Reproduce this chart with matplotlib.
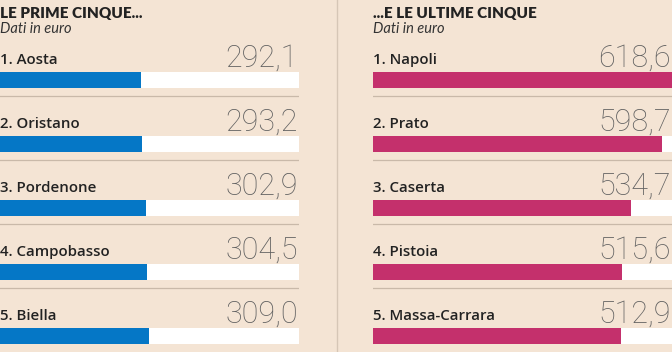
import matplotlib.pyplot as plt

left_title = "LE PRIME CINQUE..."
right_title = "...E LE ULTIME CINQUE"
subtitle = "Dati in euro"
left_names = ["Aosta", "Oristano", "Pordenone", "Campobasso", "Biella"]
left_values = [292.1, 293.2, 302.9, 304.5, 309.0]
right_names = ["Napoli", "Prato", "Caserta", "Pistoia", "Massa-Carrara"]
right_values = [618.6, 598.7, 534.7, 515.6, 512.9]
scale_max = 619.5

bg = "#f4e4d4"
W, H = 672, 352

fig = plt.figure(figsize=(6.72, 3.52), dpi=100, facecolor=bg)


def fmt(v):
    return f"{v:.1f}".replace(".", ",")


def panel(x0, title, names, values, color):
    ax = fig.add_axes([x0 / W, 0, 299 / W, 1])
    ax.patch.set_alpha(0)
    ax.set_xlim(0, scale_max)
    ax.set_ylim(H, 0)
    ax.axis("off")
    rows = [80 + 64 * i for i in range(len(values))]
    ax.barh(rows, [scale_max] * len(values), height=16, left=0,
            color="white", zorder=1)
    ax.barh(rows, values, height=16, left=0, color=color, zorder=2)
    ax.text(0, 18, title, fontsize=11, fontweight="heavy", color="#222222",
            va="baseline", ha="left", family="Lato")
    ax.text(0, 33, subtitle, fontsize=10.5, style="italic", color="#333333",
            va="baseline", ha="left", family="Lato")
    for i, (name, v) in enumerate(zip(names, values)):
        y = rows[i]
        ax.text(0, y - 16, f"{i + 1}. {name}", fontsize=10.8,
                fontweight="semibold", color="#222222", va="baseline",
                ha="left", family="Open Sans")
        ax.text(scale_max - 2, y - 13, fmt(v), fontsize=22,
                fontweight="light", color="#606060", va="baseline",
                ha="right", family="Roboto")
        if i < len(values) - 1:
            ax.plot([0, scale_max], [y + 16, y + 16], color="#c9b9a9",
                    lw=0.9, zorder=0)


panel(0, left_title, left_names, left_values, "#0577c6")
panel(373, right_title, right_names, right_values, "#c4306c")

div = fig.add_axes([0, 0, 1, 1])
div.set_xlim(0, W)
div.set_ylim(H, 0)
div.axis("off")
div.patch.set_alpha(0)
div.plot([337, 337], [0, H], color="#d6c6b6", lw=1)

fig.savefig("out.png", dpi=100, facecolor=bg)
